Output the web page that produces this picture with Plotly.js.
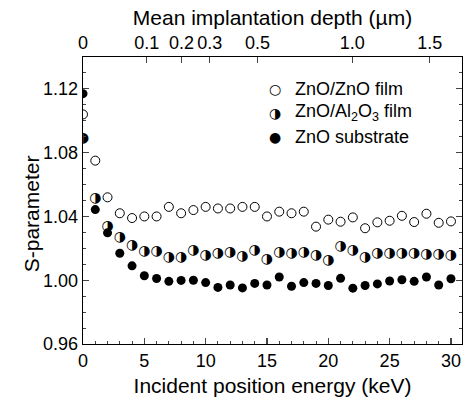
<!DOCTYPE html>
<html>
<head>
<meta charset="utf-8">
<script src="https://cdn.plot.ly/plotly-3.0.1.min.js"></script>
<style>html,body{margin:0;padding:0;background:#fff;}#chart{width:465px;height:400px;}</style>
</head>
<body>
<div id="chart"></div>
<script>
// Incident positron energy (keV)
const energy = [0,1,2,3,4,5,6,7,8,9,10,11,12,13,14,15,16,17,18,19,20,21,22,23,24,25,26,27,28,29,30];
// S-parameter, ZnO/ZnO film (open circles)
const sZnOZnO = [1.104,1.075,1.052,1.042,1.039,1.040,1.040,1.046,1.042,1.044,1.046,1.045,1.045,1.046,1.046,1.040,1.043,1.042,1.043,1.0336,1.038,1.0367,1.0394,1.0326,1.0363,1.0373,1.0404,1.0365,1.0417,1.036,1.0369];
// S-parameter, ZnO/Al2O3 film (half-filled circles)
const sZnOAl2O3 = [1.089,1.051,1.0334,1.0265,1.022,1.018,1.0183,1.014,1.0144,1.0189,1.0153,1.0169,1.0176,1.015,1.0189,1.0132,1.0172,1.0169,1.0173,1.0153,1.0125,1.021,1.0187,1.0143,1.0166,1.017,1.017,1.017,1.0163,1.0163,1.0153];
// S-parameter, ZnO substrate (filled circles)
const sZnOSub = [1.117,1.0443,1.0297,1.0169,1.009,1.0028,1.0011,0.9993,0.9999,1.000,0.9985,0.9955,0.997,0.9952,0.998,0.997,1.002,0.9962,0.9985,0.998,0.9967,1.0012,0.995,0.9967,0.9977,0.9995,1.0003,0.9993,1.002,0.997,1.0009];
// Top axis: mean implantation depth (um) labels
const depthTicks = [0, 0.1, 0.2, 0.3, 0.5, 1.0, 1.5];
const depthLabels = ['0','0.1','0.2','0.3','0.5','1.0','1.5'];
const seriesNames = ['ZnO/ZnO film','ZnO/Al<sub>2</sub>O<sub>3</sub> film','ZnO substrate'];

// Makhov profile: z(nm) = (40/rho) * E^1.6, rho(ZnO)=5.6 g/cm3  ->  E = (z*rho/40)^(1/1.6)
const rho = 5.6;
const depthToEnergy = z => Math.pow(z*1000*rho/40, 1/1.6);
const depthTickE = depthTicks.map(depthToEnergy);

const FONT = 'Liberation Sans, Arial, Helvetica, sans-serif';
const GLYPH = 'DejaVu Sans';
const xr = [0, 30.9];

const traces = [
  {x: energy, y: sZnOZnO, mode: 'markers', type: 'scatter', name: seriesNames[0], showlegend: false,
   marker: {symbol: 'circle', size: 9, color: 'white', line: {color: 'black', width: 1}}},
  {x: energy, y: sZnOAl2O3, mode: 'text', type: 'scatter', name: seriesNames[1], showlegend: false,
   text: energy.map(() => '\u25D1'), textposition: 'middle center',
   textfont: {family: GLYPH, size: 14, color: 'black'}},
  {x: energy, y: sZnOSub, mode: 'markers', type: 'scatter', name: seriesNames[2], showlegend: false,
   marker: {symbol: 'circle', size: 9, color: 'black', line: {color: 'black', width: 0}}},
  {x: [null], y: [null], xaxis: 'x2', yaxis: 'y', mode: 'markers', showlegend: false, hoverinfo: 'skip'}
];

const legendGlyphs = ['\u25CB','\u25D1','\u25CF'];
const legendY = [0.889, 0.806, 0.722];
const annotations = [];
for (let i = 0; i < 3; i++) {
  annotations.push({xref:'paper', yref:'paper', x:0.507, y:legendY[i], text:legendGlyphs[i], showarrow:false,
    xanchor:'center', yanchor:'middle', font:{family:GLYPH, size:14, color:'black'}});
  annotations.push({xref:'paper', yref:'paper', x:0.555, y:legendY[i], text:seriesNames[i], showarrow:false,
    xanchor:'left', yanchor:'middle', font:{family:FONT, size:18, color:'black'}});
}
// y-axis title (placed as in the reference, slightly below the axis centre)
annotations.push({xref:'paper', yref:'paper', x:-0.135, y:0.455, text:'S-parameter', textangle:-90,
  showarrow:false, xanchor:'center', yanchor:'middle', font:{family:FONT, size:21, color:'black'}});

const layout = {
  width: 465, height: 400,
  margin: {l: 83, r: 3, t: 57, b: 56, pad: 0},
  paper_bgcolor: 'white', plot_bgcolor: 'white',
  font: {family: FONT, size: 18, color: 'black'},
  showlegend: false,
  xaxis: {
    range: xr, tickvals: [0,5,10,15,20,25,30], ticks: 'inside', ticklen: 6, tickwidth: 1.2,
    showline: true, linecolor: 'black', linewidth: 1.3, mirror: false, showgrid: false, zeroline: false,
    minor: {ticks: 'inside', dtick: 1, ticklen: 3, tickwidth: 1, showgrid: false},
    tickfont: {family: FONT, size: 18},
    title: {text: 'Incident position energy (keV)', font: {family: FONT, size: 21}, standoff: 8}
  },
  xaxis2: {
    range: xr, overlaying: 'x', side: 'top', anchor: 'y',
    tickvals: depthTickE, ticktext: depthLabels, ticks: 'inside', ticklen: 6, tickwidth: 1.2,
    showline: true, linecolor: 'black', linewidth: 1.3, showgrid: false, zeroline: false,
    tickfont: {family: FONT, size: 18},
    title: {text: 'Mean implantation depth (\u00B5m)', font: {family: FONT, size: 21}, standoff: 1}
  },
  yaxis: {
    range: [0.96, 1.14], tickvals: [0.96, 1.00, 1.04, 1.08, 1.12], ticktext: ['0.96','1.00','1.04','1.08','1.12'],
    ticks: 'inside', ticklen: 6, tickwidth: 1.2,
    showline: true, linecolor: 'black', linewidth: 1.3, mirror: 'ticks', showgrid: false, zeroline: false,
    minor: {ticks: 'inside', dtick: 0.01, tick0: 0.96, ticklen: 3, tickwidth: 1, showgrid: false},
    tickfont: {family: FONT, size: 18}
  },
  annotations: annotations
};

Plotly.newPlot('chart', traces, layout, {displayModeBar: false, staticPlot: true});
</script>
</body>
</html>
